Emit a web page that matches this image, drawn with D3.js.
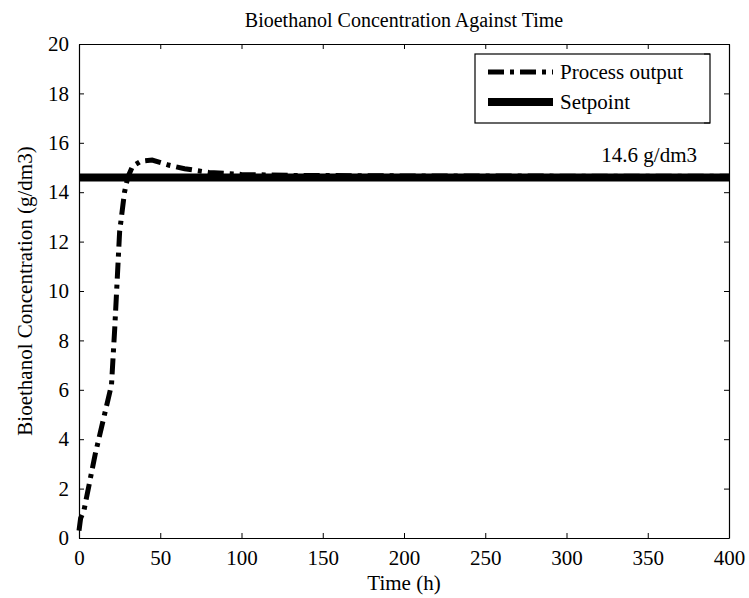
<!DOCTYPE html>
<html>
<head>
<meta charset="utf-8">
<script src="https://cdn.jsdelivr.net/npm/d3@7"></script>
<style>
  body { margin: 0; background: #fff; }
  svg text { font-family: "Times New Roman", "Liberation Serif", "DejaVu Serif", serif; fill: #000; }
</style>
</head>
<body>
<script>
'use strict';

// Process output
var timeH = [0, 1, 3, 10, 20, 22, 25, 28, 30, 33, 38, 45, 55, 65, 80, 100, 130, 200, 300, 400];
var conc  = [0.3, 0.8, 1.1, 3.4, 6.2, 8.5, 12.4, 14.0, 14.6, 15.05, 15.25, 15.3, 15.1, 14.95, 14.8, 14.72, 14.68, 14.66, 14.65, 14.65];
var setpoint = 14.6;
var xTicks = [0, 50, 100, 150, 200, 250, 300, 350, 400];
var yTicks = [0, 2, 4, 6, 8, 10, 12, 14, 16, 18, 20];
var seriesNames = ["Process output", "Setpoint"];

(function() {
  var width = 749, height = 598;
  var left = 79, right = 729, top = 44, bottom = 538;
  var serif = "'Times New Roman', 'Liberation Serif', 'DejaVu Serif', serif";

  var svg = d3.select("body").append("svg")
      .attr("width", width)
      .attr("height", height);

  var x = d3.scaleLinear().domain([0, 400]).range([left, right]);
  var y = d3.scaleLinear().domain([0, 20]).range([bottom, top]);

  var line = d3.line()
      .x(function(d) { return x(d[0]); })
      .y(function(d) { return y(d[1]); });

  // setpoint
  svg.append("path")
      .datum([[0, setpoint], [400, setpoint]])
      .attr("d", line)
      .attr("fill", "none")
      .attr("stroke", "#000")
      .attr("stroke-width", 8);

  // process output
  svg.append("path")
      .datum(timeH.map(function(t, i) { return [t, conc[i]]; }))
      .attr("d", line)
      .attr("fill", "none")
      .attr("stroke", "#000")
      .attr("stroke-width", 5)
      .attr("stroke-dasharray", "16,6,4,6");

  // axes, ticks inward on all four sides
  svg.append("g").attr("transform", "translate(0," + bottom + ")")
      .call(d3.axisBottom(x).tickValues(xTicks).tickSizeInner(-5).tickSizeOuter(0).tickPadding(12));
  svg.append("g").attr("transform", "translate(0," + top + ")")
      .call(d3.axisTop(x).tickValues(xTicks).tickSizeInner(-5).tickSizeOuter(0).tickFormat(""));
  svg.append("g").attr("transform", "translate(" + left + ",0)")
      .call(d3.axisLeft(y).tickValues(yTicks).tickSizeInner(-5).tickSizeOuter(0).tickPadding(10));
  svg.append("g").attr("transform", "translate(" + right + ",0)")
      .call(d3.axisRight(y).tickValues(yTicks).tickSizeInner(-5).tickSizeOuter(0).tickFormat(""));

  svg.selectAll("g").attr("font-family", serif);
  svg.selectAll(".domain").attr("stroke", "#000").attr("stroke-width", 1.2);
  svg.selectAll(".tick line").attr("stroke", "#000");
  svg.selectAll(".tick text").style("font-size", "21px").style("font-family", serif);

  // title and labels
  svg.append("text")
      .attr("x", (left + right) / 2).attr("y", 27)
      .attr("text-anchor", "middle")
      .style("font-size", "20px")
      .text("Bioethanol Concentration Against Time");
  svg.append("text")
      .attr("x", (left + right) / 2).attr("y", 590)
      .attr("text-anchor", "middle")
      .style("font-size", "21px")
      .text("Time (h)");
  svg.append("text")
      .attr("transform", "translate(32," + (top + bottom) / 2 + ") rotate(-90)")
      .attr("text-anchor", "middle")
      .style("font-size", "21px")
      .text("Bioethanol Concentration (g/dm3)");

  svg.append("text")
      .attr("x", 697).attr("y", 162)
      .attr("text-anchor", "end")
      .style("font-size", "21px")
      .text("14.6 g/dm3");

  // legend
  var lg = svg.append("g");
  lg.append("rect")
      .attr("x", 475).attr("y", 54).attr("width", 235).attr("height", 69)
      .attr("fill", "#fff").attr("stroke", "#000").attr("stroke-width", 1.2);
  lg.selectAll(".lt").data([54, 123]).enter().append("line")
      .attr("x1", 710).attr("x2", 704)
      .attr("y1", function(d) { return d; }).attr("y2", function(d) { return d; })
      .attr("stroke", "#000");
  var rows = [
    { name: seriesNames[0], y: 72, w: 5, dash: "16,6,4,6" },
    { name: seriesNames[1], y: 102, w: 8, dash: null }
  ];
  rows.forEach(function(r) {
    lg.append("line")
        .attr("x1", 488).attr("x2", 553)
        .attr("y1", r.y).attr("y2", r.y)
        .attr("stroke", "#000")
        .attr("stroke-width", r.w)
        .attr("stroke-dasharray", r.dash);
    lg.append("text")
        .attr("x", 560).attr("y", r.y + 7)
        .style("font-size", "21px")
        .text(r.name);
  });
})();
</script>
</body>
</html>
